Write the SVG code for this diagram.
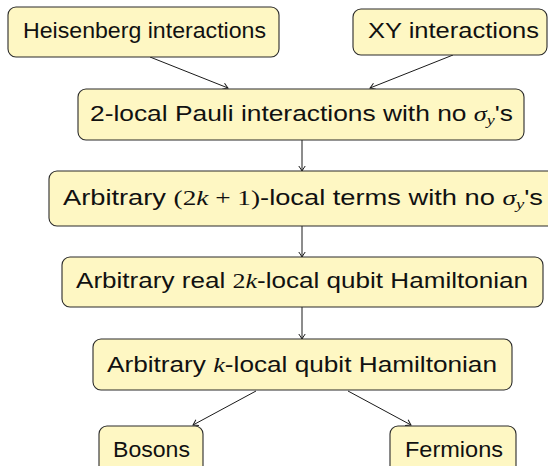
<svg xmlns="http://www.w3.org/2000/svg" width="548" height="466" viewBox="0 0 548 466">
<style>
.box{fill:#fef7c3;stroke:#2b2b2b;stroke-width:1.1}
.t{font-family:"Liberation Sans",Arial,sans-serif;font-size:22px;fill:#111;text-anchor:start}
.m{font-family:"Liberation Serif","Times New Roman",serif;font-style:italic}
.r{font-family:"Liberation Serif","Times New Roman",serif}
.c{stroke:#1a1a1a;stroke-width:1;fill:none}
</style>
<defs>
<marker id="ah" viewBox="-6 -4 8 8" markerWidth="8" markerHeight="8" refX="0" refY="0" orient="auto" markerUnits="userSpaceOnUse">
<path d="M-5,-3.2 Q-1.5,-0.8 0,0 Q-1.5,0.8 -5,3.2" fill="none" stroke="#1a1a1a" stroke-width="1"/>
</marker>
</defs>
<rect width="548" height="466" fill="#fff"/>
<g id="connectors">
<line class="c" x1="150" y1="57" x2="228" y2="88" marker-end="url(#ah)"/>
<line class="c" x1="453" y1="55" x2="370" y2="88" marker-end="url(#ah)"/>
<line class="c" x1="302" y1="140" x2="302" y2="171" marker-end="url(#ah)"/>
<line class="c" x1="302" y1="226" x2="302" y2="257" marker-end="url(#ah)"/>
<line class="c" x1="302" y1="307" x2="302" y2="339" marker-end="url(#ah)"/>
<line class="c" x1="256" y1="391" x2="193" y2="425" marker-end="url(#ah)"/>
<line class="c" x1="348" y1="391" x2="411" y2="425" marker-end="url(#ah)"/>
</g>
<g id="heisenberg">
<rect class="box" x="8" y="7" width="271" height="50" rx="8"/>
<text class="t" x="23" y="38" textLength="243" lengthAdjust="spacingAndGlyphs">Heisenberg interactions</text>
</g>
<g id="xy">
<rect class="box" x="353" y="9" width="194" height="46" rx="8"/>
<text class="t" x="368" y="38" textLength="171" lengthAdjust="spacingAndGlyphs">XY interactions</text>
</g>
<g id="pauli">
<rect class="box" x="78" y="89" width="446" height="51" rx="8"/>
<text class="t" x="90" y="121" textLength="423" lengthAdjust="spacingAndGlyphs">2-local Pauli interactions with no <tspan class="m">σ</tspan><tspan class="m" font-size="15" dy="4">y</tspan><tspan dy="-4">'s</tspan></text>
</g>
<g id="odd">
<rect class="box" x="49" y="171" width="506" height="55" rx="8"/>
<text class="t" x="63" y="205" textLength="480" lengthAdjust="spacingAndGlyphs">Arbitrary <tspan class="r">(2</tspan><tspan class="m">k</tspan><tspan class="r"> + 1)</tspan>-local terms with no <tspan class="m">σ</tspan><tspan class="m" font-size="15" dy="4">y</tspan><tspan dy="-4">'s</tspan></text>
</g>
<g id="real">
<rect class="box" x="62" y="257" width="481" height="50" rx="8"/>
<text class="t" x="76" y="288" textLength="452" lengthAdjust="spacingAndGlyphs">Arbitrary real <tspan class="r">2</tspan><tspan class="m">k</tspan>-local qubit Hamiltonian</text>
</g>
<g id="klocal">
<rect class="box" x="93" y="339" width="419" height="51" rx="8"/>
<text class="t" x="107" y="372" textLength="390" lengthAdjust="spacingAndGlyphs">Arbitrary <tspan class="m">k</tspan>-local qubit Hamiltonian</text>
</g>
<g id="bosons">
<rect class="box" x="99" y="426" width="104" height="50" rx="8"/>
<text class="t" x="113" y="457" textLength="77" lengthAdjust="spacingAndGlyphs">Bosons</text>
</g>
<g id="fermions">
<rect class="box" x="390" y="426" width="126" height="50" rx="8"/>
<text class="t" x="405" y="457" textLength="98" lengthAdjust="spacingAndGlyphs">Fermions</text>
</g>
</svg>
